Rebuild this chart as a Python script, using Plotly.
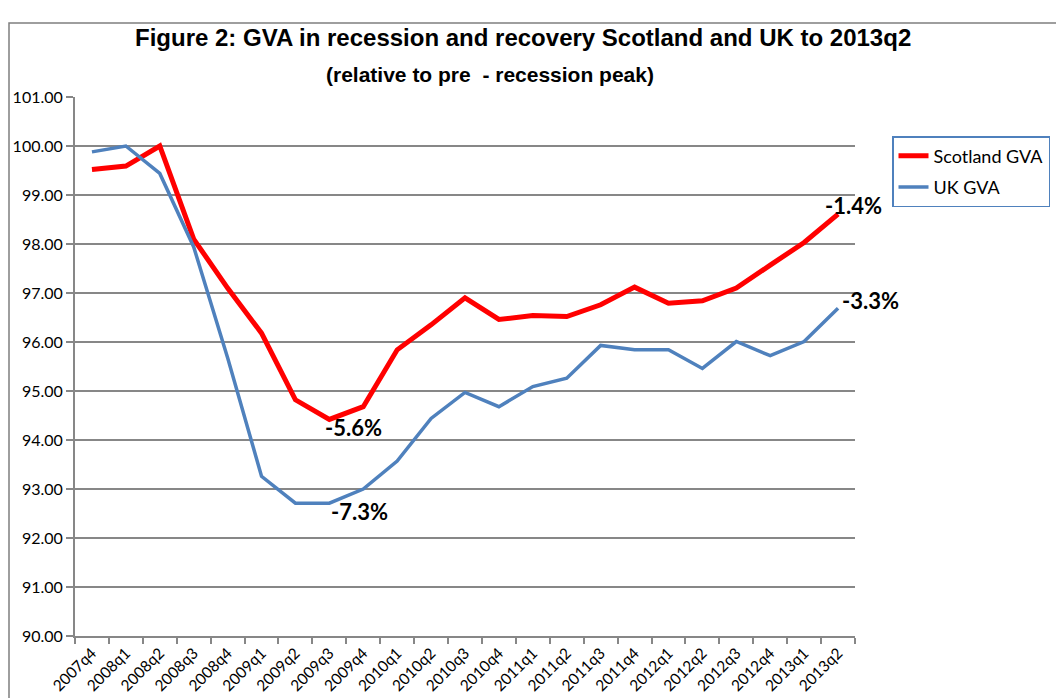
import plotly.graph_objects as go

# Quarterly GVA index, pre-recession peak = 100
quarters = ["2007q4", "2008q1", "2008q2", "2008q3", "2008q4",
            "2009q1", "2009q2", "2009q3", "2009q4",
            "2010q1", "2010q2", "2010q3", "2010q4",
            "2011q1", "2011q2", "2011q3", "2011q4",
            "2012q1", "2012q2", "2012q3", "2012q4",
            "2013q1", "2013q2"]

scotland_gva = [99.52, 99.59, 100.00, 98.10, 97.10,
                96.18, 94.82, 94.42, 94.68,
                95.84, 96.35, 96.90, 96.46,
                96.54, 96.52, 96.76, 97.12,
                96.79, 96.84, 97.10, 97.57,
                98.03, 98.61]

uk_gva = [99.88, 100.00, 99.44, 97.94, 95.68,
          93.26, 92.71, 92.71, 93.00,
          93.57, 94.44, 94.97, 94.68,
          95.09, 95.26, 95.93, 95.84,
          95.84, 95.46, 96.01, 95.72,
          96.01, 96.69]

y_ticks = list(range(90, 102))

RED = "#FF0000"
BLUE = "#4F81BD"
GRID = "#878787"

W, H = 1056, 698
L, R, T, B = 75, 201, 97, 62
PW, PH = W - L - R, H - T - B


def px_x(p):
    return (p - L) / PW


def px_y(p):
    return (H - B - p) / PH


fig = go.Figure()
fig.add_trace(go.Scatter(x=quarters, y=scotland_gva, mode="lines",
                         name="Scotland GVA", legendgroup="s",
                         line=dict(color=RED, width=5)))
fig.add_trace(go.Scatter(x=quarters, y=uk_gva, mode="lines",
                         name="UK GVA", legendgroup="u",
                         line=dict(color=BLUE, width=3.5)))


def pct_label(v):
    return f"{v - 100:.1f}%"


label_font = dict(family="Lato", size=22, color="#000000")
trough_s = scotland_gva.index(min(scotland_gva))
trough_u = 7
for xi, series, dx, dy in [(trough_s, scotland_gva, 24, -8),
                           (trough_u, uk_gva, 30, -8),
                           (len(quarters) - 1, scotland_gva, 15, 9),
                           (len(quarters) - 1, uk_gva, 32, 8)]:
    fig.add_annotation(x=quarters[xi], y=series[xi], text=f"<b>{pct_label(series[xi])}</b>",
                       showarrow=False, xanchor="center", yanchor="middle",
                       xshift=dx, yshift=dy, font=label_font)

# Titles
fig.add_annotation(xref="paper", yref="paper", x=px_x(523), y=px_y(37),
                   text="<b>Figure 2: GVA in recession and recovery Scotland and UK to 2013q2</b>",
                   showarrow=False, xanchor="center", yanchor="middle",
                   font=dict(family="Liberation Sans", size=24, color="#000000"))
fig.add_annotation(xref="paper", yref="paper", x=px_x(490), y=px_y(75),
                   text="<b>(relative to pre  - recession peak)</b>",
                   showarrow=False, xanchor="center", yanchor="middle",
                   font=dict(family="Liberation Sans", size=21, color="#000000"))

# Chart frame
fig.add_shape(type="rect", xref="paper", yref="paper",
              x0=px_x(9), x1=px_x(1062), y0=px_y(704), y1=px_y(23),
              line=dict(color="#7F7F7F", width=1.5), layer="below")

fig.update_layout(
    width=W, height=H,
    margin=dict(l=L, r=R, t=T, b=B, pad=0, autoexpand=False),
    paper_bgcolor="white", plot_bgcolor="white",
    showlegend=True,
    legend=dict(x=px_x(892), y=px_y(136), xanchor="left", yanchor="top",
                bordercolor=BLUE, borderwidth=1.5, bgcolor="white",
                font=dict(family="Lato", size=18, color="#000000"),
                tracegroupgap=5, itemwidth=30),
    xaxis=dict(type="category", range=[-0.5, len(quarters) - 0.5],
               tickangle=-45, tickson="boundaries", ticks="outside",
               ticklen=6, tickcolor=GRID, tickwidth=1.5, automargin=False,
               showgrid=False, showline=True, linecolor=GRID, linewidth=2,
               tickfont=dict(family="Lato", size=15.5, color="#000000")),
    yaxis=dict(range=[90, 101], tickvals=y_ticks,
               ticktext=[f"{v:.2f}" for v in y_ticks],
               ticks="outside", ticklen=7, tickcolor=GRID, tickwidth=1.5,
               showgrid=True, gridcolor=GRID, gridwidth=2, automargin=False,
               showline=True, linecolor=GRID, linewidth=2, zeroline=False,
               tickfont=dict(family="Lato", size=16, color="#000000")),
)

fig.write_html("out.html")
